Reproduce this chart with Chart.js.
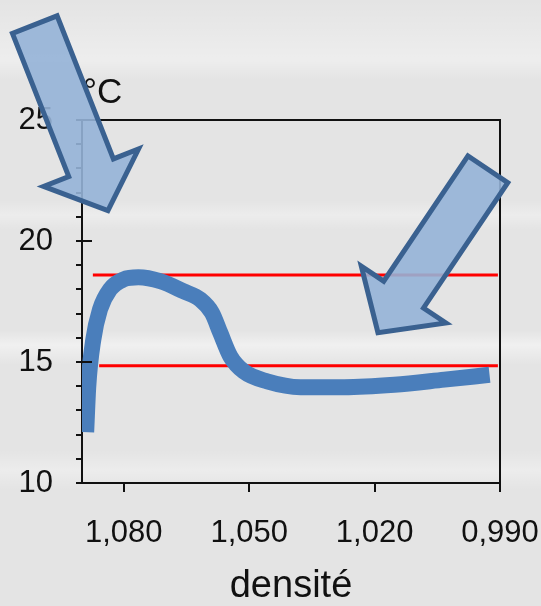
<!DOCTYPE html>
<html>
<head>
<meta charset="utf-8">
<script src="https://cdn.jsdelivr.net/npm/chart.js"></script>
<style>
  html, body { margin: 0; padding: 0; }
  body {
    width: 541px; height: 606px; overflow: hidden;
    background-color: #e4e4e4;
    background-image:
      linear-gradient(180deg, rgba(255,255,255,0) 0px, rgba(255,255,255,0.35) 60px, rgba(255,255,255,0) 80px,
        rgba(255,255,255,0) 200px, rgba(255,255,255,0.3) 215px, rgba(255,255,255,0) 230px,
        rgba(255,255,255,0) 330px, rgba(255,255,255,0.45) 345px, rgba(255,255,255,0) 365px,
        rgba(255,255,255,0) 450px, rgba(255,255,255,0.3) 470px, rgba(255,255,255,0) 490px);
  }
  canvas { display: block; }
</style>
</head>
<body>
<canvas id="chart" width="541" height="606"></canvas>
<script>
// densité (x) et température en °C (y)
const densite = [1.0890, 1.0885, 1.0873, 1.0857, 1.0833, 1.0801, 1.0765, 1.0713, 1.0657, 1.0617,
                 1.0589, 1.0569, 1.0545, 1.0513, 1.0457, 1.0377, 1.0273, 1.0153, 1.0033, 0.9925];
const temperature = [12.1, 13.99, 15.92, 17.17, 18.0, 18.41, 18.5, 18.34, 17.92, 17.58,
                     17.03, 16.2, 15.23, 14.61, 14.2, 13.96, 13.96, 14.06, 14.27, 14.47];

// les deux lignes rouges
const seuilHaut = 18.6;
const seuilHautX = [1.0874, 0.9905];
const seuilBas = 14.85;
const seuilBasX = [1.0859, 0.9905];

const xTicks = [1.080, 1.050, 1.020, 0.990];
const xMin = 0.990, xMax = 1.090;
const yMin = 10, yMax = 25;
const yMajor = [10, 15, 20, 25];

// flèches : queue et pointe en unités du graphique
const arrowTails = [[1.1013, 28.94], [0.9929, 22.96]];
const arrowTips = [[1.0838, 21.26], [1.0192, 16.21]];

const FONT = '"Liberation Sans", Arial, sans-serif';
const INK = '#111';

function drawArrow(ctx, tail, tip) {
  const dx = tip.x - tail.x, dy = tip.y - tail.y;
  const len = Math.hypot(dx, dy);
  const ux = dx / len, uy = dy / len, px = -uy, py = ux;
  const sw = 24, hw = 51, hl = 46;
  const bx = tip.x - ux * hl, by = tip.y - uy * hl;
  ctx.beginPath();
  ctx.moveTo(tail.x + px * sw, tail.y + py * sw);
  ctx.lineTo(bx + px * sw, by + py * sw);
  ctx.lineTo(bx + px * hw, by + py * hw);
  ctx.lineTo(tip.x, tip.y);
  ctx.lineTo(bx - px * hw, by - py * hw);
  ctx.lineTo(bx - px * sw, by - py * sw);
  ctx.lineTo(tail.x - px * sw, tail.y - py * sw);
  ctx.closePath();
  ctx.fillStyle = 'rgba(149,179,215,0.9)';
  ctx.fill();
  ctx.lineWidth = 5;
  ctx.lineJoin = 'miter';
  ctx.strokeStyle = '#3a6190';
  ctx.stroke();
}

const decor = {
  id: 'decor',
  afterDatasetsDraw(chart) {
    const { ctx, chartArea: a } = chart;
    ctx.save();
    ctx.strokeStyle = INK;
    ctx.lineWidth = 2;
    ctx.beginPath();
    ctx.moveTo(a.left, a.top);
    ctx.lineTo(a.right, a.top);
    ctx.lineTo(a.right, a.bottom);
    ctx.stroke();
    ctx.restore();
  },
  afterDraw(chart) {
    const { ctx, chartArea: a, scales } = chart;
    ctx.save();
    // graduations principales qui traversent l'axe
    ctx.strokeStyle = INK;
    ctx.lineWidth = 2;
    yMajor.forEach(v => {
      const y = scales.y.getPixelForValue(v);
      ctx.beginPath();
      ctx.moveTo(a.left, y);
      ctx.lineTo(a.left + 10, y);
      ctx.stroke();
    });
    // unité
    ctx.fillStyle = INK;
    ctx.font = '35px ' + FONT;
    ctx.textAlign = 'left';
    ctx.textBaseline = 'alphabetic';
    ctx.fillText('°C', a.left + 1, 103);
    // flèches
    arrowTails.forEach((t, i) => {
      const tip = arrowTips[i];
      drawArrow(ctx,
        { x: scales.x.getPixelForValue(t[0]), y: scales.y.getPixelForValue(t[1]) },
        { x: scales.x.getPixelForValue(tip[0]), y: scales.y.getPixelForValue(tip[1]) });
    });
    ctx.restore();
  }
};

new Chart(document.getElementById('chart'), {
  type: 'line',
  data: {
    datasets: [
      {
        data: densite.map((d, i) => ({ x: d, y: temperature[i] })),
        borderColor: '#4a7ebb',
        borderWidth: 16,
        borderCapStyle: 'butt',
        cubicInterpolationMode: 'monotone',
        pointRadius: 0,
        order: 0
      },
      {
        data: seuilHautX.map(d => ({ x: d, y: seuilHaut })),
        borderColor: '#ff0000',
        borderWidth: 3,
        pointRadius: 0,
        order: 1
      },
      {
        data: seuilBasX.map(d => ({ x: d, y: seuilBas })),
        borderColor: '#ff0000',
        borderWidth: 3,
        pointRadius: 0,
        order: 1
      }
    ]
  },
  options: {
    responsive: false,
    devicePixelRatio: 1,
    animation: false,
    layout: { padding: { left: 0, right: 41, top: 120, bottom: 0 } },
    plugins: { legend: { display: false }, tooltip: { enabled: false }, title: { display: false } },
    scales: {
      x: {
        type: 'linear',
        reverse: true,
        min: xMin,
        max: xMax,
        afterBuildTicks: s => { s.ticks = xTicks.map(v => ({ value: v })); },
        afterFit: s => { s.height = 123; s.paddingLeft = 0; s.paddingRight = 0; },
        grid: { drawOnChartArea: false, drawTicks: true, tickLength: 9, color: INK, lineWidth: 2 },
        border: { display: true, color: INK, width: 2 },
        ticks: {
          color: INK,
          font: { family: FONT, size: 31 },
          padding: 23,
          maxRotation: 0,
          autoSkip: false,
          callback: v => v.toFixed(3).replace('.', ',')
        },
        title: {
          display: true,
          text: 'densité',
          color: INK,
          font: { family: FONT, size: 38, lineHeight: 1.0 },
          padding: { top: 0, bottom: 0 }
        }
      },
      y: {
        min: yMin,
        max: yMax,
        afterFit: s => { s.width = 82; s.paddingTop = 0; s.paddingBottom = 0; },
        grid: { drawOnChartArea: false, drawTicks: true, tickLength: 6, color: INK, lineWidth: 2 },
        border: { display: true, color: INK, width: 2 },
        ticks: {
          stepSize: 1,
          autoSkip: false,
          color: INK,
          font: { family: FONT, size: 31 },
          padding: 23,
          callback: v => (v % 5 === 0 ? String(v) : '')
        }
      }
    }
  },
  plugins: [decor]
});
</script>
</body>
</html>
